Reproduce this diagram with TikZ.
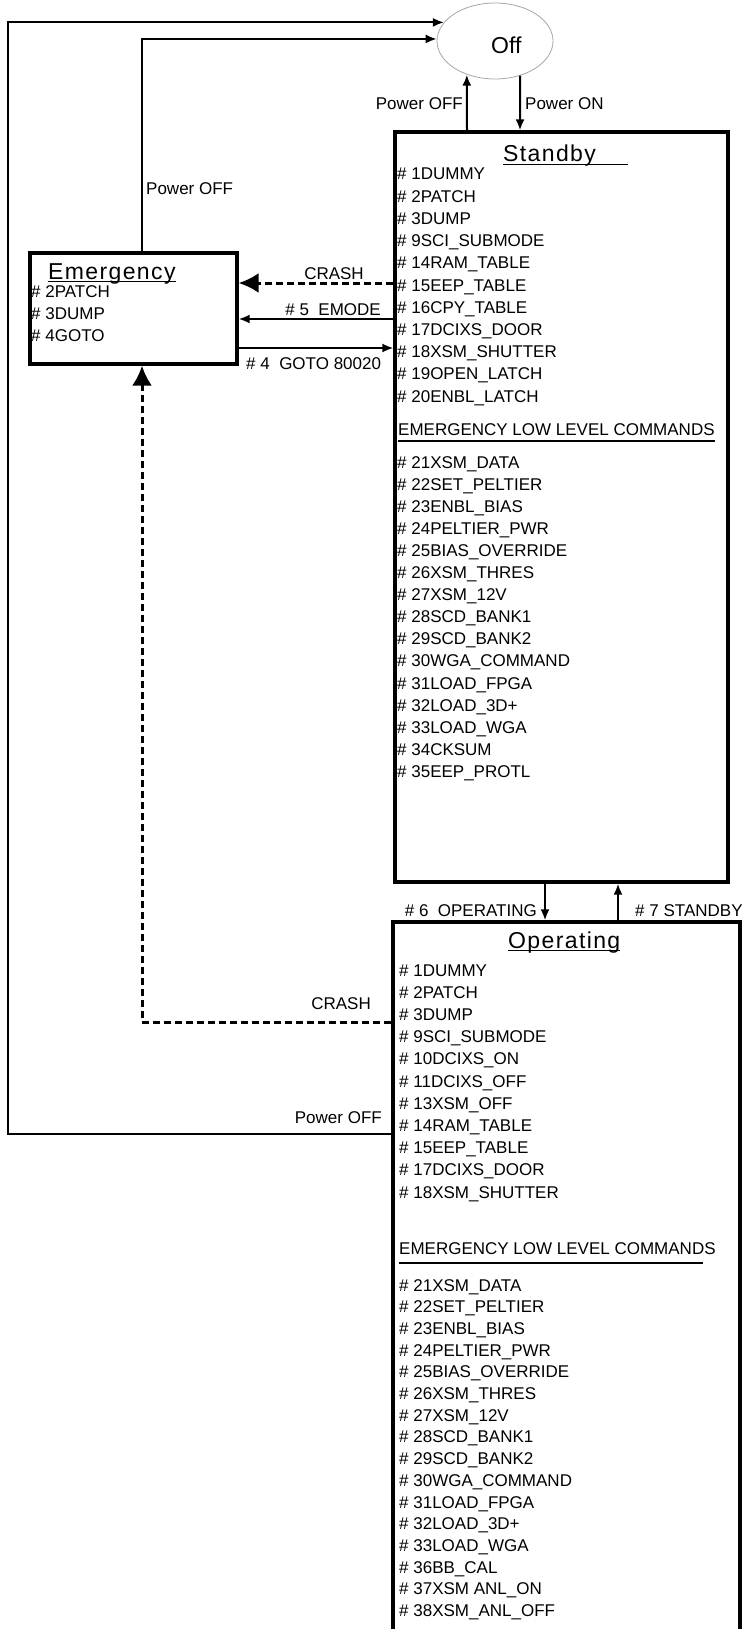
\documentclass[tikz,border=0pt]{standalone}
\usepackage{fontspec}
\setmainfont{Liberation Sans}
\newfontfamily\titlefont[LetterSpace=6]{Liberation Sans}
\usepackage{tikz}
\usetikzlibrary{calc, shapes.geometric, positioning, arrows.meta}

\begin{document}
\begin{tikzpicture}[x=1pt, y=-1pt, >={Latex[length=11pt,width=9pt]},
    state/.style={draw, rectangle, line width=3.3pt, inner sep=0pt},
    cmd/.style={anchor=base west, inner sep=0pt, font=\fontsize{17}{20}\selectfont},
    lbl/.style={inner sep=0pt, font=\fontsize{17}{20}\selectfont},
    ttl/.style={anchor=base west, inner sep=0pt, font=\titlefont\fontsize{23}{26}\selectfont},
    flow/.style={->, line width=2pt},
    crash/.style={-{Latex[length=20pt,width=20pt]}, line width=3pt, dash pattern=on 7pt off 4pt}]
    \useasboundingbox (0,0) rectangle (742,1629);
    \clip (0,0) rectangle (742,1629);

    % 1. Cac trang thai
    \node[ellipse, draw=gray!70, line width=0.8pt, minimum width=116pt, minimum height=76pt, inner sep=0pt] (off) at (495,41) {};
    \node[anchor=base west, inner sep=0pt, font=\fontsize{23}{26}\selectfont] (offtxt) at (491,54) {Off};
    \node[state, minimum width=333pt, minimum height=750pt] (sb) at (561.5,507) {};
    \node[state, minimum width=207pt, minimum height=111pt] (em) at (133.5,308.5) {};
    \node[state, minimum width=347pt, minimum height=726pt] (op) at (566.5,1285) {};

    % 2. Tieu de
    \node[ttl] (sbt) at (503,161.7) {Standby};
    \draw[line width=1.3pt] ($(sbt.base west)+(0,3)$) -- ($(sbt.base west)+(125,3)$);
    \node[ttl] (emt) at (48,279.3) {Emergency};
    \draw[line width=1.3pt] ($(emt.base west)+(0,2)$) -- ($(emt.base east)+(0,2)$);
    \node[ttl] (opt) at (508,948.3) {Operating};
    \draw[line width=1.3pt] ($(opt.base west)+(0,2)$) -- ($(opt.base east)+(0,2)$);

    % 3. Danh sach lenh
    \foreach \c [count=\i] in {2PATCH, 3DUMP, 4GOTO} {
        \node[cmd] (emc\i) at (31, 275.5+22*\i) {\# \c};
    }
    \foreach \c [count=\i] in {1DUMMY, 2PATCH, 3DUMP, 9SCI\_SUBMODE, 14RAM\_TABLE,
        15EEP\_TABLE, 16CPY\_TABLE, 17DCIXS\_DOOR, 18XSM\_SHUTTER, 19OPEN\_LATCH, 20ENBL\_LATCH} {
        \node[cmd] (sbc\i) at (397, 157.8+22.2*\i) {\# \c};
    }
    \node[cmd] (sbhd) at (398,435) {EMERGENCY LOW LEVEL COMMANDS};
    \draw[line width=1.2pt] ($(sbhd.base west)+(0,6)$) -- ($(sbhd.base east)+(0,6)$);
    \foreach \c [count=\i] in {21XSM\_DATA, 22SET\_PELTIER, 23ENBL\_BIAS, 24PELTIER\_PWR,
        25BIAS\_OVERRIDE, 26XSM\_THRES, 27XSM\_12V, 28SCD\_BANK1, 29SCD\_BANK2,
        30WGA\_COMMAND, 31LOAD\_FPGA, 32LOAD\_3D+, 33LOAD\_WGA, 34CKSUM, 35EEP\_PROTL} {
        \node[cmd] (sbl\i) at (397, 445.9+22.1*\i) {\# \c};
    }
    \foreach \c [count=\i] in {1DUMMY, 2PATCH, 3DUMP, 9SCI\_SUBMODE, 10DCIXS\_ON,
        11DCIXS\_OFF, 13XSM\_OFF, 14RAM\_TABLE, 15EEP\_TABLE, 17DCIXS\_DOOR, 18XSM\_SHUTTER} {
        \node[cmd] (opc\i) at (399, 953.8+22.2*\i) {\# \c};
    }
    \node[cmd] (ophd) at (399,1254) {EMERGENCY LOW LEVEL COMMANDS};
    \draw[line width=1.2pt] ($(ophd.base west)+(0,9)$) -- ($(ophd.base west)+(304,9)$);
    \foreach \c [count=\i] in {21XSM\_DATA, 22SET\_PELTIER, 23ENBL\_BIAS, 24PELTIER\_PWR,
        25BIAS\_OVERRIDE, 26XSM\_THRES, 27XSM\_12V, 28SCD\_BANK1, 29SCD\_BANK2,
        30WGA\_COMMAND, 31LOAD\_FPGA, 32LOAD\_3D+, 33LOAD\_WGA, 36BB\_CAL,
        37XSM ANL\_ON, 38XSM\_ANL\_OFF} {
        \node[cmd] (opl\i) at (399, 1269.3+21.7*\i) {\# \c};
    }

    % 4. Chuyen trang thai
    \coordinate (crashy) at (0,283);
    \coordinate (emodey) at (0,319);
    \coordinate (gotoy) at (0,348);
    \coordinate (crashopy) at (0,1022);
    \coordinate (pwropy) at (0,1134);
    \coordinate (rail) at (8,600);
    \coordinate (downx) at (545,0);
    \coordinate (upx) at (618,0);

    \draw[flow] ([xshift=-94.5pt]sb.north) -- (off.230);
    \draw[flow] (off.306) -- ([xshift=-41.5pt]sb.north);
    \node[lbl, anchor=base east] (pwroffsb) at (463,110) {Power OFF};
    \node[lbl, anchor=base west] (pwronsb) at (525,110) {Power ON};

    \draw[flow] ([xshift=8.5pt]em.north) |- (off.178);
    \node[lbl, anchor=base west] (pwroffem) at (146,194.5) {Power OFF};

    \draw[flow] (op.west |- pwropy) -| (rail) |- (off.160);
    \node[lbl, anchor=base east] (pwroffop) at (382,1123.5) {Power OFF};

    \draw[crash] (sb.west |- crashy) -- (em.east |- crashy);
    \node[lbl, anchor=base] (crashsb) at (334,279) {CRASH};
    \draw[flow] (sb.west |- emodey) -- (em.east |- emodey);
    \node[lbl, anchor=base east] (emode) at (381,315.5) {\# 5\ \ EMODE};
    \draw[flow] (em.east |- gotoy) -- (sb.west |- gotoy);
    \node[lbl, anchor=base west] (goto) at (246,369.5) {\# 4\ \ GOTO 80020};

    \draw[crash] (op.west |- crashopy) -| ([xshift=8.5pt]em.south);
    \node[lbl, anchor=base east] (crashop) at (371,1009.5) {CRASH};

    \draw[flow] (sb.south -| downx) -- (op.north -| downx);
    \node[lbl, anchor=base east] (toop) at (537,916.5) {\# 6\ \ OPERATING};
    \draw[flow] (op.north -| upx) -- (sb.south -| upx);
    \node[lbl, anchor=base west] (tosb) at (635,916.5) {\# 7 STANDBY};
\end{tikzpicture}
\end{document}
